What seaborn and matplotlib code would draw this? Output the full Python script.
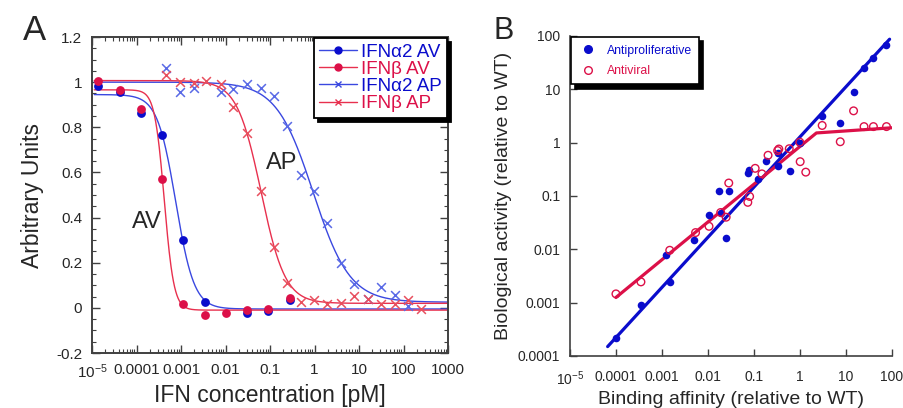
import numpy as np
import pandas as pd
import matplotlib
matplotlib.use("Agg")
import matplotlib.pyplot as plt
import matplotlib.ticker as mticker
from matplotlib.lines import Line2D
import seaborn as sns

# ---------------- Panel A data ----------------
a2_av_x = [1.35e-5, 4.3e-5, 1.23e-4, 3.8e-4, 1.1e-3, 3.5e-3, 3.1e-2, 9.1e-2, 0.28]
a2_av_y = [0.981, 0.955, 0.862, 0.767, 0.30, 0.025, -0.022, -0.015, 0.037]

b_av_x = [1.35e-5, 4.3e-5, 1.23e-4, 3.8e-4, 1.1e-3, 3.5e-3, 1.0e-2, 3.1e-2, 9.1e-2, 0.28]
b_av_y = [1.003, 0.966, 0.88, 0.569, 0.018, -0.031, -0.022, -0.01, -0.004, 0.044]

a2_ap_x = [4.6e-4, 9.5e-4, 1.95e-3, 7.8e-3, 1.5e-2, 3.0e-2, 6.2e-2, 0.123, 0.245,
           0.49, 0.97, 1.95, 3.9, 7.8, 15.8, 31, 63, 123]
a2_ap_y = [1.063, 0.956, 0.972, 0.957, 0.968, 0.99, 0.975, 0.937, 0.806,
           0.589, 0.518, 0.377, 0.20, 0.107, 0.04, 0.091, 0.059, 0.007]

b_ap_x = [4.6e-4, 9.5e-4, 1.95e-3, 3.7e-3, 7.8e-3, 1.5e-2, 3.0e-2, 6.2e-2, 0.123, 0.245,
          0.49, 0.97, 1.95, 3.9, 7.8, 15.8, 31, 63, 123, 250]
b_ap_y = [1.031, 1.0, 0.997, 1.007, 0.994, 0.89, 0.774, 0.516, 0.271, 0.11,
          0.025, 0.037, 0.018, 0.022, 0.051, 0.041, 0.019, 0.019, 0.034, -0.004]

# fitted dose-response curves (Hill): order = a2 AV, b AV, a2 AP, b AP
curve_names = ["IFNα2 AV", "IFNβ AV", "IFNα2 AP", "IFNβ AP"]
curve_top = [0.945, 0.966, 1.0, 1.007]
curve_bottom = [-0.005, -0.01, 0.025, 0.02]
curve_ec50 = [7.6e-4, 4.2e-4, 0.93, 0.063]
curve_hill = [2.1, 4.0, 1.05, 1.6]

a_xticks = [1e-5, 1e-4, 1e-3, 1e-2, 1e-1, 1, 10, 100, 1000]
a_xticklabels = [r"$\mathregular{10^{-5}}$", "0.0001", "0.001", "0.01", "0.1", "1", "10", "100", "1000"]
a_yticks = [-0.2, 0, 0.2, 0.4, 0.6, 0.8, 1, 1.2]
a_yticklabels = ["-0.2", "0", "0.2", "0.4", "0.6", "0.8", "1", "1.2"]

# ---------------- Panel B data ----------------
prolif_x = [1e-4, 3.5e-4, 1.23e-3, 1.48e-3, 5.0e-3, 1.06e-2, 1.74e-2, 1.9e-2, 2.5e-2, 2.85e-2,
            7.4e-2, 7.9e-2, 0.124, 0.18, 0.33, 0.34, 0.60, 1.0, 3.07, 7.6, 14.8, 25, 40, 77]
prolif_y = [2.2e-4, 9.2e-4, 7.9e-3, 2.45e-3, 1.52e-2, 4.35e-2, 0.126, 4.9e-2, 1.63e-2, 0.126,
            0.27, 0.31, 0.21, 0.45, 0.64, 0.37, 0.29, 1.0, 3.18, 2.29, 9.1, 24.8, 39, 69]

viral_x = [1e-4, 3.5e-4, 1.48e-3, 5.4e-3, 1.06e-2, 1.9e-2, 2.5e-2, 2.85e-2, 7.4e-2, 8.1e-2,
           0.107, 0.15, 0.204, 0.33, 0.35, 0.59, 1.0, 1.02, 1.35, 3.07, 7.6, 14.8, 25, 40, 77]
viral_y = [1.46e-3, 2.45e-3, 9.6e-3, 2.06e-2, 2.7e-2, 4.9e-2, 4.0e-2, 0.175, 7.6e-2, 9.8e-2,
           0.33, 0.26, 0.58, 0.71, 0.76, 0.77, 1.02, 0.44, 0.28, 2.1, 1.04, 3.95, 2.0, 2.0, 2.0]

prolif_line_x = [6.6e-5, 90]
prolif_line_y = [1.5e-4, 87]
viral_line_x = [1e-4, 2.3, 100]
viral_line_y = [1.25e-3, 1.52, 1.9]

b_xticks = [1e-5, 1e-4, 1e-3, 1e-2, 1e-1, 1, 10, 100]
b_xticklabels = [r"$\mathregular{10^{-5}}$", "0.0001", "0.001", "0.01", "0.1", "1", "10", "100"]
b_yticks = [1e-4, 1e-3, 1e-2, 1e-1, 1, 10, 100]
b_yticklabels = ["0.0001", "0.001", "0.01", "0.1", "1", "10", "100"]

# ---------------- style ----------------
sns.set_theme(style="ticks")
plt.rcParams["font.family"] = ["Liberation Sans", "DejaVu Sans"]
plt.rcParams["mathtext.fontset"] = "custom"
plt.rcParams["mathtext.rm"] = "Liberation Sans"
plt.rcParams["mathtext.it"] = "Liberation Sans:italic"
plt.rcParams["mathtext.bf"] = "Liberation Sans:bold"

BLUE = "#0a0ccc"
RED = "#dc1048"
BLUE_L = "#3a48e0"
RED_L = "#e8304e"
BLUE_X = "#5a6ae6"
RED_X = "#e8505e"
SPINE = "#404040"

fig = plt.figure(figsize=(9.04, 4.08), dpi=100)
axA = fig.add_axes([0.1018, 0.1348, 0.3938, 0.7745])
axB = fig.add_axes([0.6305, 0.1275, 0.3559, 0.7843])

# ---------------- Panel A ----------------
xs = np.logspace(-4.95, 3, 600)
curve_cols = [BLUE_L, RED_L, BLUE_L, RED_L]
for name, top, bot, ec, h, c in zip(curve_names, curve_top, curve_bottom, curve_ec50, curve_hill, curve_cols):
    ys = bot + (top - bot) / (1 + (xs / ec) ** h)
    sns.lineplot(x=xs, y=ys, ax=axA, color=c, lw=1.0, sort=False)

sns.scatterplot(x=a2_ap_x, y=a2_ap_y, ax=axA, marker="x", color=BLUE_X, s=40, linewidth=1.1, zorder=3)
sns.scatterplot(x=b_ap_x, y=b_ap_y, ax=axA, marker="x", color=RED_X, s=40, linewidth=1.1, zorder=3)
sns.scatterplot(x=a2_av_x, y=a2_av_y, ax=axA, marker="o", color=BLUE, s=40, linewidth=0, zorder=4)
sns.scatterplot(x=b_av_x, y=b_av_y, ax=axA, marker="o", color=RED, s=40, linewidth=0, zorder=5)

axA.set_xscale("log")
axA.set_xlim(1e-5, 1000)
axA.set_ylim(-0.2, 1.2)
axA.set_xticks(a_xticks)
axA.set_xticklabels(a_xticklabels)
axA.xaxis.set_minor_locator(mticker.LogLocator(base=10, subs=np.arange(2, 10), numticks=20))
axA.xaxis.set_minor_formatter(mticker.NullFormatter())
axA.set_yticks(a_yticks)
axA.set_yticklabels(a_yticklabels)
axA.yaxis.set_minor_locator(mticker.MultipleLocator(0.05))
axA.tick_params(which="both", direction="in", top=True, right=True, color=SPINE)
axA.tick_params(which="major", length=6, width=1.0, labelsize=11, pad=7)
axA.tick_params(which="minor", length=3, width=0.8)
for sp in axA.spines.values():
    sp.set_color(SPINE)
    sp.set_linewidth(1.4)
axA.set_xlabel("IFN concentration [pM]", fontsize=16.5, labelpad=2)
axA.set_ylabel("Arbitrary Units", fontsize=16.5, labelpad=9)

axA.text(1.74e-4, 0.38, "AV", fontsize=17, ha="center", va="center")
axA.text(0.186, 0.643, "AP", fontsize=17, ha="center", va="center")

handlesA = [
    Line2D([], [], color=BLUE_L, lw=1.0, marker="o", ms=5, mfc=BLUE, mec=BLUE),
    Line2D([], [], color=RED_L, lw=1.0, marker="o", ms=5, mfc=RED, mec=RED),
    Line2D([], [], color=BLUE_L, lw=1.0, marker="x", ms=5, mew=1.0),
    Line2D([], [], color=RED_L, lw=1.0, marker="x", ms=5, mew=1.0),
]
legA = axA.legend(handlesA, curve_names, loc="upper right", fontsize=13.5, frameon=True,
                  fancybox=False, edgecolor="black", framealpha=1, borderaxespad=0.05,
                  labelspacing=0.0, handlelength=2.0, handletextpad=0.2, borderpad=0.3,
                  shadow={"color": "black", "alpha": 1.0, "ox": 3, "oy": -3})
legA.get_frame().set_linewidth(1.3)
for t, c in zip(legA.get_texts(), [BLUE, RED, BLUE, RED]):
    t.set_color(c)

fig.text(35 / 904, 1 - 31 / 408, "A", fontsize=25, ha="center", va="center")

# ---------------- Panel B ----------------
sns.lineplot(x=prolif_line_x, y=prolif_line_y, ax=axB, color=BLUE, lw=2.3, sort=False)
sns.lineplot(x=viral_line_x, y=viral_line_y, ax=axB, color=RED, lw=2.3, sort=False)
sns.scatterplot(x=prolif_x, y=prolif_y, ax=axB, marker="o", color=BLUE, s=30, linewidth=0, zorder=4)
sns.scatterplot(x=viral_x, y=viral_y, ax=axB, marker="o", facecolor="none", edgecolor=RED,
                s=30, linewidth=1.0, zorder=5)

axB.set_xscale("log")
axB.set_yscale("log")
axB.set_xlim(1e-5, 100)
axB.set_ylim(1e-4, 100)
axB.set_xticks(b_xticks)
axB.set_xticklabels(b_xticklabels)
axB.set_yticks(b_yticks)
axB.set_yticklabels(b_yticklabels)
axB.xaxis.set_minor_locator(mticker.NullLocator())
axB.yaxis.set_minor_locator(mticker.NullLocator())
axB.tick_params(which="major", direction="in", length=5, width=1.0, color=SPINE, labelsize=10)
axB.tick_params(axis="x", pad=10)
axB.tick_params(axis="y", pad=7)
sns.despine(ax=axB)
for sp in ["left", "bottom"]:
    axB.spines[sp].set_color(SPINE)
    axB.spines[sp].set_linewidth(1.2)
axB.set_xlabel("Binding affinity (relative to WT)", fontsize=14, labelpad=2)
axB.set_ylabel("Biological activity (relative to WT)", fontsize=14, labelpad=4)

handlesB = [
    Line2D([], [], ls="none", marker="o", ms=5.5, mfc=BLUE, mec=BLUE),
    Line2D([], [], ls="none", marker="o", ms=5.5, mfc="none", mec=RED, mew=1.0),
]
legB = axB.legend(handlesB, ["Antiproliferative", "Antiviral"], loc="upper left", fontsize=8.8,
                  frameon=True, fancybox=False, edgecolor="black", framealpha=1,
                  borderaxespad=0.1, labelspacing=0.7, handlelength=1.5, handletextpad=0.8,
                  borderpad=0.6, shadow={"color": "black", "alpha": 1.0, "ox": 3, "oy": -3})
legB.get_frame().set_linewidth(1.2)
for t, c in zip(legB.get_texts(), [BLUE, RED]):
    t.set_color(c)

fig.text(504 / 904, 1 - 31 / 408, "B", fontsize=22, ha="center", va="center")

fig.savefig("out.png", dpi=100)
